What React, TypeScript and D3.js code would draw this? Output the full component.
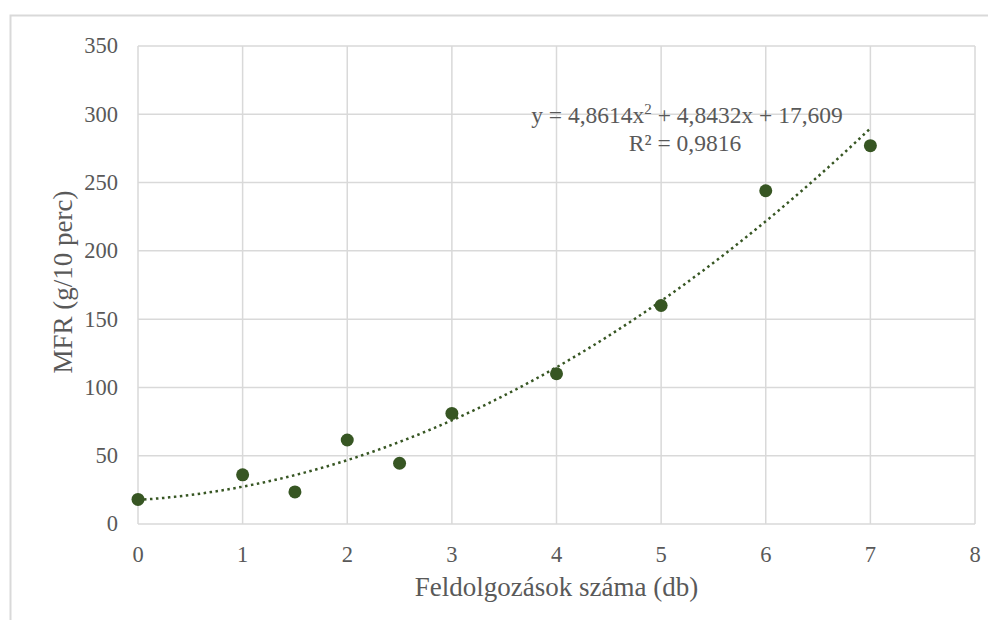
import { useEffect, useRef } from "react"
import * as d3 from "d3"

const xValues = [0, 1, 1.5, 2, 2.5, 3, 4, 5, 6, 7]
const mfrValues = [18, 36, 23.5, 61.5, 44.5, 81, 110, 160, 244, 277]
const trendCoef = [17.609, 4.8432, 4.8614]
const xTicks = [0, 1, 2, 3, 4, 5, 6, 7, 8]
const yTicks = [0, 50, 100, 150, 200, 250, 300, 350]

const W = 996
const H = 628
const m = { left: 138, right: 21, top: 46, bottom: 104 }
const green = "#375623"
const grid = "#d9d9d9"
const font = "'Liberation Serif', 'Times New Roman', serif"

const App = () => {
  const ref = useRef<SVGSVGElement>(null)

  useEffect(() => {
    const svg = d3.select(ref.current)
    svg.selectAll("*").remove()

    const x = d3.scaleLinear().domain([0, 8]).range([m.left, W - m.right])
    const y = d3.scaleLinear().domain([0, 350]).range([H - m.bottom, m.top])

    // outer frame (cropped at right and bottom)
    svg
      .append("path")
      .attr("d", `M10.5,${H + 5}V15.5H${W + 5}`)
      .attr("fill", "none")
      .attr("stroke", grid)
      .attr("stroke-width", 2)

    // gridlines
    svg
      .append("g")
      .selectAll("line")
      .data(yTicks)
      .join("line")
      .attr("x1", m.left)
      .attr("x2", W - m.right)
      .attr("y1", (d) => y(d))
      .attr("y2", (d) => y(d))
      .attr("stroke", grid)
      .attr("stroke-width", 1.5)

    svg
      .append("g")
      .selectAll("line")
      .data(xTicks)
      .join("line")
      .attr("x1", (d) => x(d))
      .attr("x2", (d) => x(d))
      .attr("y1", y(0))
      .attr("y2", y(350))
      .attr("stroke", grid)
      .attr("stroke-width", 1.5)

    // tick labels
    svg
      .append("g")
      .selectAll("text")
      .data(yTicks)
      .join("text")
      .attr("x", m.left - 20)
      .attr("y", (d) => y(d))
      .attr("dy", "0.33em")
      .attr("text-anchor", "end")
      .style("font-family", font)
      .style("font-size", "22.5px")
      .attr("fill", "#595959")
      .text((d) => d)

    svg
      .append("g")
      .selectAll("text")
      .data(xTicks)
      .join("text")
      .attr("x", (d) => x(d))
      .attr("y", 562)
      .attr("text-anchor", "middle")
      .style("font-family", font)
      .style("font-size", "22.5px")
      .attr("fill", "#595959")
      .text((d) => d)

    // axis titles
    svg
      .append("text")
      .attr("transform", `translate(72, 282) rotate(-90)`)
      .attr("text-anchor", "middle")
      .style("font-family", font)
      .style("font-size", "27px")
      .attr("fill", "#595959")
      .text("MFR (g/10 perc)")

    svg
      .append("text")
      .attr("x", (x(0) + x(8)) / 2)
      .attr("y", 596)
      .attr("text-anchor", "middle")
      .style("font-family", font)
      .style("font-size", "27px")
      .attr("fill", "#595959")
      .text("Feldolgozások száma (db)")

    // trendline
    const fit = (v: number) => trendCoef[0] + trendCoef[1] * v + trendCoef[2] * v * v
    const line = d3
      .line<number>()
      .x((d) => x(d))
      .y((d) => y(fit(d)))
    svg
      .append("path")
      .datum(d3.range(0, 7.001, 0.05))
      .attr("d", line)
      .attr("fill", "none")
      .attr("stroke", green)
      .attr("stroke-width", 2.5)
      .attr("stroke-dasharray", "2.5,3.5")

    // points
    svg
      .append("g")
      .selectAll("circle")
      .data(xValues)
      .join("circle")
      .attr("cx", (d) => x(d))
      .attr("cy", (d, i) => y(mfrValues[i]))
      .attr("r", 6.5)
      .attr("fill", green)

    // equation label
    const eq = svg
      .append("text")
      .attr("x", 687)
      .attr("y", 123)
      .attr("text-anchor", "middle")
      .style("font-family", font)
      .style("font-size", "23.5px")
      .attr("fill", "#595959")
    eq.append("tspan").text("y = 4,8614x")
    eq.append("tspan").attr("dy", -9).style("font-size", "15px").text("2")
    eq.append("tspan").attr("dy", 9).text(" + 4,8432x + 17,609")

    svg
      .append("text")
      .attr("x", 685)
      .attr("y", 151)
      .attr("text-anchor", "middle")
      .style("font-family", font)
      .style("font-size", "23.5px")
      .attr("fill", "#595959")
      .text("R² = 0,9816")
  }, [])

  return (
    <div style={{ margin: -8, width: W, height: H, background: "#fff" }}>
      <svg ref={ref} width={W} height={H} style={{ display: "block" }} />
    </div>
  )
}

export default App
